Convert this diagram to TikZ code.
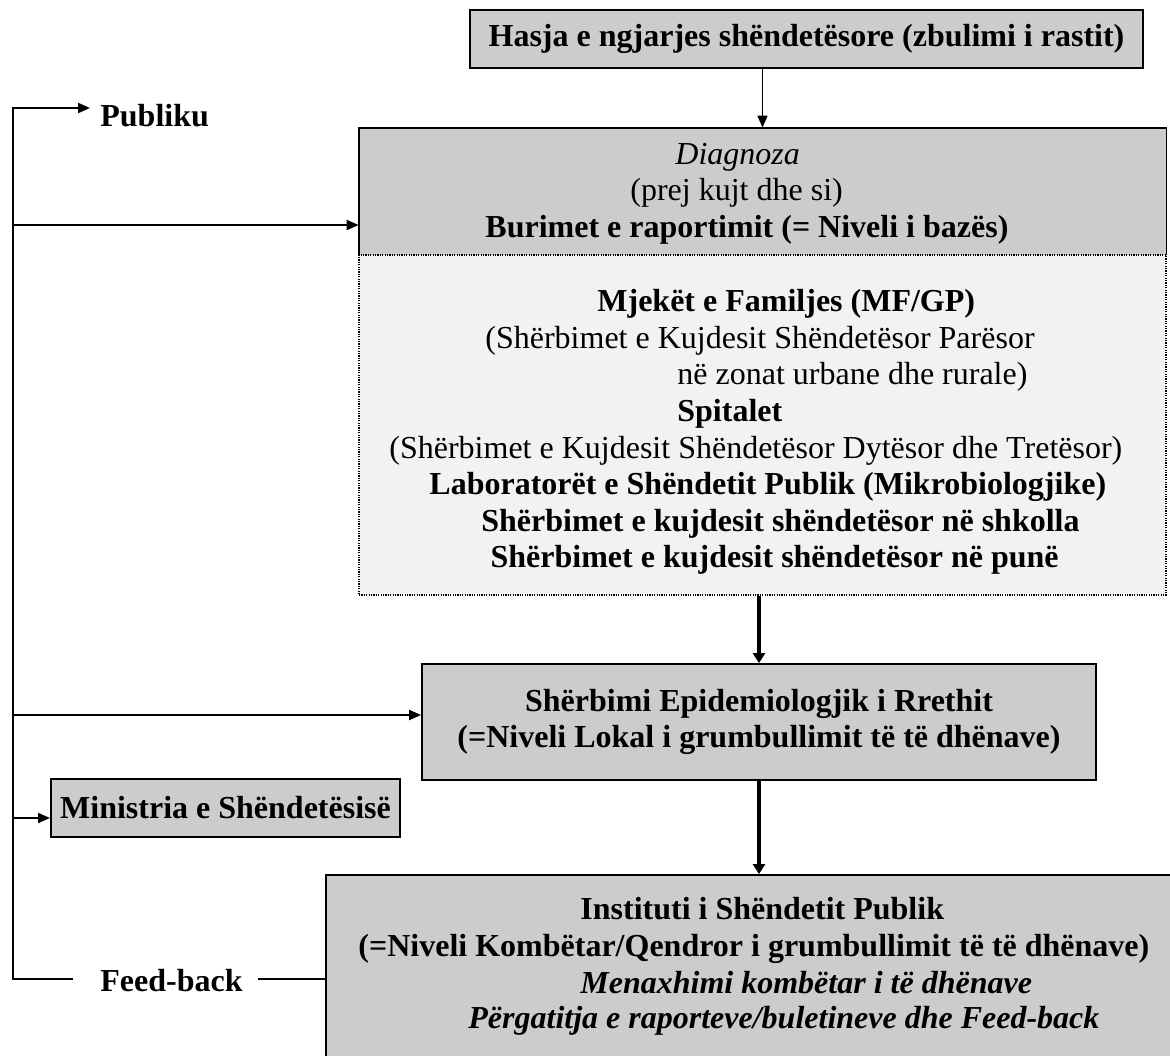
\documentclass[tikz,border=0pt]{standalone}
\usepackage{fontspec}
\setmainfont{Liberation Serif}
\usetikzlibrary{arrows.meta}

\definecolor{boxgray}{gray}{0.8}
\definecolor{srcfill}{gray}{0.95}
\newcommand{\diagfont}{\fontsize{16}{18}\selectfont}

\tikzset{
  box/.style={draw, line width=0.9pt, fill=boxgray, inner sep=0pt, font=\diagfont\bfseries},
  dotbox/.style={draw, line width=0.7pt, dash pattern=on 0.6pt off 0.6pt, fill=srcfill, inner sep=0pt},
  txt/.style={anchor=base west, inner sep=0pt, font=\diagfont},
  btxt/.style={txt, font=\diagfont\bfseries},
  arr/.style={line width=1pt, -{Triangle[length=6pt,width=5pt]}},
  bigarr/.style={line width=2.2pt, -{Triangle[length=5pt,width=6pt]}},
}

\begin{document}
\begin{tikzpicture}[x=0.5pt, y=-0.5pt]
  \useasboundingbox (0,0) rectangle (1170,1055);
  \clip (0,0) rectangle (1170,1055);

  % boxes
  \node[box, line width=0.8pt, minimum width=336.5pt, minimum height=29pt] (hasja) at (806.5,39)
    {Hasja e ngjarjes shëndetësore (zbulimi i rastit)};
  \node[fill=boxgray, inner sep=0pt, minimum width=403.5pt, minimum height=63.5pt] (diag) at (762.5,191.5) {};
  \node[dotbox, minimum width=403.5pt, minimum height=170pt] (src) at (762.5,425) {};
  \draw[line width=0.9pt] (diag.south west) -- (diag.north west) -- (diag.north east) -- (diag.south east);
  \node[box, align=center, minimum width=337pt, minimum height=58pt] (epid) at (759,722)
    {Shërbimi Epidemiologjik i Rrethit\\(=Niveli Lokal i grumbullimit të të dhënave)};
  \node[box, line width=1pt, minimum width=174.5pt, minimum height=29pt] (mins) at (225.5,808)
    {Ministria e Shëndetësisë};
  \node[box, minimum width=437pt, minimum height=112.5pt] (inst) at (763,987.5) {};

  % diagnoza
  \node[txt] (d1) at (675,164) {\textit{Diagnoza}};
  \node[txt] (d2) at (630,200) {(prej kujt dhe si)};
  \node[btxt] (d3) at (485,237) {Burimet e raportimit (= Niveli i bazës)};

  % burimet
  \node[btxt] (s1) at (597,311) {Mjekët e Familjes (MF/GP)};
  \node[txt] (s2) at (485,348) {(Shërbimet e Kujdesit Shëndetësor Parësor};
  \node[txt] (s3) at (677,384) {në zonat urbane dhe rurale)};
  \node[btxt] (s4) at (677,421) {Spitalet};
  \node[txt] (s5) at (389,458) {(Shërbimet e Kujdesit Shëndetësor Dytësor dhe Tretësor)};
  \node[btxt] (s6) at (429,494) {Laboratorët e Shëndetit Publik (Mikrobiologjike)};
  \node[btxt, anchor=base east] (s7) at (1080,531) {Shërbimet e kujdesit shëndetësor në shkolla};
  \node[btxt, anchor=base east] (s8) at (1059,567) {Shërbimet e kujdesit shëndetësor në punë};

  % instituti
  \node[btxt] (i1) at (580,919) {Instituti i Shëndetit Publik};
  \node[btxt] (i2) at (358,956) {(=Niveli Kombëtar/Qendror i grumbullimit të të dhënave)};
  \node[btxt] (i3) at (580,993) {\textit{Menaxhimi kombëtar i të dhënave}};
  \node[btxt] (i4) at (468,1028) {\textit{Përgatitja e raporteve/buletineve dhe Feed-back}};

  % down arrows
  \draw[arr, line width=0.8pt] (hasja.south -| src.south) -- (diag.north -| src.south);
  \draw[bigarr] (src.south -| epid.north) -- (epid.north);
  \draw[bigarr] (epid.south) -- (epid.south |- inst.north);

  % feed-back line on the left
  \node[btxt] (pub) at (100,126) {Publiku};
  \node[btxt] (fb) at (100,991) {Feed-back};
  \coordinate (top) at (13,108);
  \coordinate (bot) at (13,979);
  \coordinate (j1) at (13,225);
  \coordinate (j2) at (13,715);
  \coordinate (j3) at (13,818);
  \draw[arr, line join=miter] (bot) -- (top) -- ([xshift=-5pt]pub.west |- top);
  \draw[line width=1pt, line cap=rect] (bot) -- ([xshift=-14pt]fb.west |- bot);
  \draw[line width=1pt] ([xshift=7.5pt]fb.east |- bot) -- (bot -| inst.west);
  \draw[arr] (j1) -- (j1 -| diag.west);
  \draw[arr] (j2) -- (j2 -| epid.west);
  \draw[arr] (j3) -- (j3 -| mins.west);
\end{tikzpicture}
\end{document}
